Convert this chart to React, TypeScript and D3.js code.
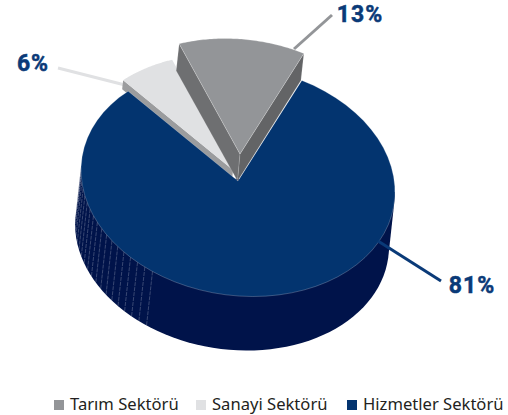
import React from "react";
import * as d3 from "d3";

const categories = ["Tarım Sektörü", "Sanayi Sektörü", "Hizmetler Sektörü"];
const values = [13, 6, 81];
const percentLabels = ["13%", "6%", "81%"];
const topColors = ["#939598", "#e0e1e3", "#03346f"];
const sliceOrder = [1, 0, 2]; // clockwise from the start angle
const W = 508, H = 415;
const RX = 157, RY = 115, SHEAR = 0.07;
const START = (-44.4 * Math.PI) / 180;
const BODY_FONT = "'Noto Sans', sans-serif";
const LABEL_FONT = "Roboto, sans-serif";

type Pt = [number, number];
const centers: Pt[] = [[240, 154], [233, 170], [238, 181]];
const depths = [27, 9, 54];

const pie = d3
  .pie<number>()
  .sort((a, b) => sliceOrder.indexOf(values.indexOf(a)) - sliceOrder.indexOf(values.indexOf(b)))
  .startAngle(START)
  .endAngle(START + Math.PI * 2);
const arcs = pie(values);

const rim = (i: number, t: number, drop = 0): Pt => {
  const [cx, cy] = centers[i];
  const x = RX * Math.sin(t);
  return [cx + x - drop * 0.11, cy - RY * Math.cos(t) + SHEAR * x + drop];
};
const rimPts = (i: number, a: number, b: number, drop = 0): Pt[] =>
  d3.range(0, 61).map((k) => rim(i, a + ((b - a) * k) / 60, drop));
const line = d3.line<Pt>();
const closed = (p: Pt[]) => line(p) + "Z";
const sector = (i: number) =>
  closed([centers[i], ...rimPts(i, arcs[i].startAngle, arcs[i].endAngle)]);
const apexLow = (i: number): Pt => [centers[i][0] - depths[i] * 0.09, centers[i][1] + depths[i]];
const sideWall = (i: number, t: number) =>
  closed([centers[i], rim(i, t), rim(i, t, depths[i]), apexLow(i)]);

const deg = Math.PI / 180;
const mainHull = d3.polygonHull([
  ...rimPts(2, 90 * deg, 272 * deg),
  ...rimPts(2, 90 * deg, 272 * deg, depths[2]),
]) as Pt[];
const stripeAngles = d3.range(213, 282, 3.4);

const legendX = [54, 196, 347];
const labelPos: Pt[] = [[360, 21.5], [33, 71], [472, 293]];
const leaders: [Pt, Pt, string][] = [
  [[294, 49], [332, 15], topColors[0]],
  [[58, 68], [125, 85], topColors[1]],
  [[378, 241], [441, 281], "#0a3a78"],
];

export default function App() {
  const edge = "rgba(255,255,255,0.45)";
  return (
    <svg width={W} height={H} style={{ position: "absolute", left: 0, top: 0 }}>
      <path d={closed(mainHull)} fill="#00134a" />
      {stripeAngles.map((a) => {
        const [x1, y1] = rim(2, a * deg);
        const [x2, y2] = rim(2, a * deg, depths[2]);
        return <line key={a} x1={x1} y1={y1} x2={x2} y2={y2} stroke="rgba(255,255,255,0.38)" strokeWidth={0.6} strokeDasharray="4 1" />;
      })}
      {leaders.slice(0, 2).map(([a, b, c], i) => (
        <line key={i} x1={a[0]} y1={a[1]} x2={b[0]} y2={b[1]} stroke={c} strokeWidth={3} />
      ))}
      <path d={sideWall(1, arcs[1].startAngle)} fill="#9b9c9e" />
      <path d={sector(1)} fill={topColors[1]} />
      <path d={sector(2)} fill={topColors[2]} stroke={edge} strokeWidth={0.5} />
      <path d={sideWall(0, arcs[0].startAngle)} fill="#6e6f71" stroke={edge} strokeWidth={0.3} />
      <path d={sideWall(0, arcs[0].endAngle)} fill="#636466" stroke={edge} strokeWidth={0.3} />
      <path d={sector(0)} fill={topColors[0]} stroke={edge} strokeWidth={0.5} />
      {leaders.slice(2).map(([a, b, c], i) => (
        <line key={i} x1={a[0]} y1={a[1]} x2={b[0]} y2={b[1]} stroke={c} strokeWidth={3} />
      ))}
      {percentLabels.map((t, i) => (
        <text key={t} x={labelPos[i][0]} y={labelPos[i][1]} textAnchor="middle" fontFamily={LABEL_FONT}
          fontWeight={700} fontSize={23} letterSpacing={1} stroke="#0a3a78" strokeWidth={0.5} fill="#0a3a78">{t}</text>
      ))}
      {categories.map((c, i) => (
        <g key={c}>
          <rect x={legendX[i]} y={400} width={10} height={10} fill={topColors[i]} />
          <text x={legendX[i] + 16} y={410} fontFamily={BODY_FONT} fontSize={16.6} fill="#231f20">{c}</text>
        </g>
      ))}
    </svg>
  );
}
